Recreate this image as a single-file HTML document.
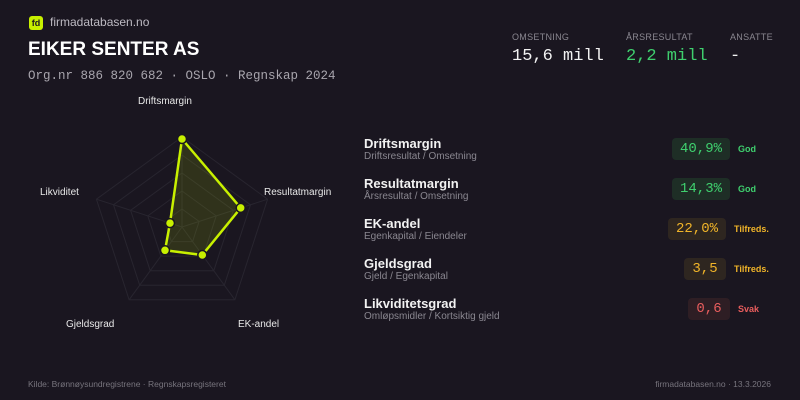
<!DOCTYPE html>
<html><head><meta charset="utf-8"><style>
*{margin:0;padding:0;box-sizing:border-box}
body{width:800px;height:400px;background:#1a1620;position:relative;overflow:hidden;font-family:"Liberation Sans",sans-serif;color:#fff}
.a{position:absolute;white-space:nowrap}
.mono{font-family:"Liberation Mono",monospace}
.t{font-size:13px;font-weight:bold;color:#f2f2f2}
.s{font-size:10px;color:#8a8790}
.box{position:absolute;height:22px;border-radius:4px;font-family:"Liberation Mono",monospace;font-size:14px;line-height:22px;text-align:center}
.st{font-size:9px;font-weight:bold}
.lab{font-size:10px;color:#e8e8e8}
.hl{font-size:9px;color:#8a8790;letter-spacing:.3px}
</style></head><body>
<div class="a" style="left:29px;top:16px;width:14px;height:14px;background:#c8f000;border-radius:3px;color:#1a1620;font-size:9px;font-weight:bold;line-height:14px;text-align:center">fd</div>
<div class="a" style="left:50px;top:15px;font-size:12px;color:#bdbac2">firmadatabasen.no</div>
<div class="a" style="left:28px;top:39px;font-size:19px;font-weight:bold;color:#fff">EIKER SENTER AS</div>
<div class="a mono" style="left:28px;top:69px;font-size:12.5px;color:#a8a5ad">Org.nr 886 820 682 · OSLO · Regnskap 2024</div>

<div class="a hl" style="left:512px;top:32px">OMSETNING</div>
<div class="a hl" style="left:626px;top:32px">ÅRSRESULTAT</div>
<div class="a hl" style="left:730px;top:32px">ANSATTE</div>
<div class="a mono" style="left:512px;top:47px;font-size:17px;color:#f2f2f2">15,6 mill</div>
<div class="a mono" style="left:626px;top:47px;font-size:17px;color:#3fcf6e">2,2 mill</div>
<div class="a mono" style="left:730px;top:47px;font-size:17px;color:#f2f2f2">-</div>

<svg class="a" style="left:0;top:0" width="400" height="400">
<g fill="none" stroke="#28252f" stroke-width="1">
<polygon points="182,137 267.6,199.2 234.9,299.8 129.1,299.8 96.4,199.2"/>
<polygon points="182,155 250.5,204.8 224.3,285.2 139.7,285.2 113.5,204.8"/>
<polygon points="182,173 233.4,210.3 213.8,270.7 150.2,270.7 130.6,210.3"/>
<polygon points="182,191 216.2,215.9 203.2,256.1 160.8,256.1 147.8,215.9"/>
<polygon points="182,209 199.1,221.4 192.6,241.6 171.4,241.6 164.9,221.4"/>
<line x1="182" y1="227" x2="182" y2="137"/><line x1="182" y1="227" x2="267.6" y2="199.2"/><line x1="182" y1="227" x2="234.9" y2="299.8"/><line x1="182" y1="227" x2="129.1" y2="299.8"/><line x1="182" y1="227" x2="96.4" y2="199.2"/>
</g>
<polygon points="182,139 240.7,207.9 202.3,255 165,250.3 170,223.1" fill="rgba(200,240,0,0.13)" stroke="#c8f000" stroke-width="2.5" stroke-linejoin="round"/>
<g fill="#c8f000" stroke="#1a1620" stroke-width="1.5">
<circle cx="182" cy="139" r="4.5"/><circle cx="240.7" cy="207.9" r="4.5"/><circle cx="202.3" cy="255" r="4.5"/><circle cx="165" cy="250.3" r="4.5"/><circle cx="170" cy="223.1" r="4.5"/>
</g>
</svg>
<div class="a lab" style="left:138px;top:96px">Driftsmargin</div>
<div class="a lab" style="left:264px;top:187px">Resultatmargin</div>
<div class="a lab" style="left:40px;top:187px">Likviditet</div>
<div class="a lab" style="left:66px;top:319px">Gjeldsgrad</div>
<div class="a lab" style="left:238px;top:319px">EK-andel</div>

<div class="a t" style="left:364px;top:136px">Driftsmargin</div><div class="a s" style="left:364px;top:151px">Driftsresultat / Omsetning</div>
<div class="box" style="left:672px;top:138px;width:58px;background:#1e2e26;color:#3fcf6e">40,9%</div><div class="a st" style="left:738px;top:144px;color:#3fcf6e">God</div>
<div class="a t" style="left:364px;top:176px">Resultatmargin</div><div class="a s" style="left:364px;top:191px">Årsresultat / Omsetning</div>
<div class="box" style="left:672px;top:178px;width:58px;background:#1e2e26;color:#3fcf6e">14,3%</div><div class="a st" style="left:738px;top:184px;color:#3fcf6e">God</div>
<div class="a t" style="left:364px;top:216px">EK-andel</div><div class="a s" style="left:364px;top:231px">Egenkapital / Eiendeler</div>
<div class="box" style="left:668px;top:218px;width:58px;background:#2e2620;color:#f0b429">22,0%</div><div class="a st" style="left:734px;top:224px;color:#f0b429">Tilfreds.</div>
<div class="a t" style="left:364px;top:256px">Gjeldsgrad</div><div class="a s" style="left:364px;top:271px">Gjeld / Egenkapital</div>
<div class="box" style="left:684px;top:258px;width:42px;background:#2e2620;color:#f0b429">3,5</div><div class="a st" style="left:734px;top:264px;color:#f0b429">Tilfreds.</div>
<div class="a t" style="left:364px;top:296px">Likviditetsgrad</div><div class="a s" style="left:364px;top:311px">Omløpsmidler / Kortsiktig gjeld</div>
<div class="box" style="left:688px;top:298px;width:42px;background:#2e1e24;color:#e85d5d">0,6</div><div class="a st" style="left:738px;top:304px;color:#e85d5d">Svak</div>

<div class="a" style="left:28px;top:379px;font-size:8.5px;color:#77747d">Kilde: Brønnøysundregistrene · Regnskapsregisteret</div>
<div class="a" style="right:29px;top:379px;font-size:8.5px;color:#77747d">firmadatabasen.no · 13.3.2026</div>
</body></html>
